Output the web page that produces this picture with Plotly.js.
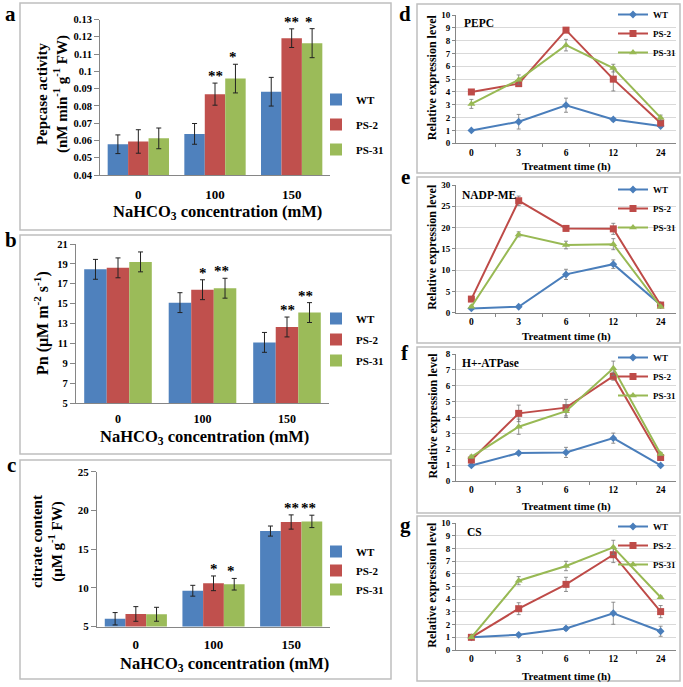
<!DOCTYPE html>
<html><head><meta charset="utf-8">
<script src="https://cdn.plot.ly/plotly-3.0.1.min.js"></script>
<style>html,body{margin:0;padding:0;background:#fff}#chart{width:683px;height:687px}</style>
</head><body><div id="chart"></div>
<script>
// ---------- DATA ----------
const series = ['WT', 'PS-2', 'PS-31'];
const concCats = ['0', '100', '150'];
const timeCats = ['0', '3', '6', '12', '24'];

// a: Pepcase activity
const pepWT = [0.0578, 0.0638, 0.0882];
const pepWTErr = [0.0054, 0.006, 0.0083];
const pepPS2 = [0.0594, 0.0868, 0.1192];
const pepPS2Err = [0.0068, 0.0064, 0.0054];
const pepPS31 = [0.0612, 0.0958, 0.1163];
const pepPS31Err = [0.006, 0.0083, 0.0084];
const pepStarsPS2 = ['', '**', '**'];
const pepStarsPS31 = ['', '*', '*'];
const pepTicks = [0.04, 0.05, 0.06, 0.07, 0.08, 0.09, 0.1, 0.11, 0.12, 0.13];
const pepTickText = ['0.04', '0.05', '0.06', '0.07', '0.08', '0.09', '0.1', '0.11', '0.12', '0.13'];

// b: Pn
const pnWT = [18.45, 15.1, 11.1];
const pnWTErr = [1.0, 1.0, 1.0];
const pnPS2 = [18.6, 16.4, 12.65];
const pnPS2Err = [1.0, 1.0, 1.0];
const pnPS31 = [19.2, 16.55, 14.1];
const pnPS31Err = [1.0, 1.0, 1.0];
const pnStarsPS2 = ['', '*', '**'];
const pnStarsPS31 = ['', '**', '**'];

// c: citrate content
const citWT = [6.0, 9.62, 17.33];
const citWTErr = [0.8, 0.7, 0.65];
const citPS2 = [6.62, 10.58, 18.5];
const citPS2Err = [0.95, 0.95, 0.92];
const citPS31 = [6.58, 10.46, 18.58];
const citPS31Err = [0.9, 0.75, 0.8];
const citStarsPS2 = ['', '*', '**'];
const citStarsPS31 = ['', '*', '**'];

// d: PEPC
const pepcWT = [1.0, 1.68, 2.97, 1.86, 1.35];
const pepcWTErr = [0.05, 0.57, 0.55, 0.12, 0.12];
const pepcPS2 = [4.0, 4.65, 8.82, 5.0, 1.58];
const pepcPS2Err = [0.1, 0.15, 0.15, 0.92, 0.15];
const pepcPS31 = [3.07, 4.95, 7.65, 5.86, 2.0];
const pepcPS31Err = [0.35, 0.38, 0.45, 0.3, 0.2];

// e: NADP-ME
const meWT = [1.0, 1.4, 9.0, 11.4, 1.8];
const meWTErr = [0.2, 0.2, 1.2, 1.0, 0.2];
const mePS2 = [3.2, 26.3, 19.8, 19.7, 1.8];
const mePS2Err = [0.3, 1.1, 0.5, 1.3, 0.2];
const mePS31 = [1.4, 18.4, 15.9, 16.1, 1.4];
const mePS31Err = [0.2, 0.6, 0.9, 1.3, 0.2];

// f: H+-ATPase
const atpWT = [0.98, 1.76, 1.8, 2.7, 0.98];
const atpWTErr = [0.05, 0.1, 0.32, 0.32, 0.05];
const atpPS2 = [1.32, 4.26, 4.62, 6.6, 1.48];
const atpPS2Err = [0.1, 0.52, 0.52, 0.25, 0.1];
const atpPS31 = [1.52, 3.42, 4.4, 7.1, 1.7];
const atpPS31Err = [0.1, 0.48, 0.4, 0.45, 0.1];

// g: CS
const csWT = [1.0, 1.2, 1.7, 2.9, 1.48];
const csWTErr = [0.05, 0.1, 0.15, 0.87, 0.4];
const csPS2 = [1.0, 3.26, 5.18, 7.52, 3.03];
const csPS2Err = [0.05, 0.47, 0.56, 0.62, 0.48];
const csPS31 = [1.0, 5.47, 6.63, 8.1, 4.16];
const csPS31Err = [0.05, 0.32, 0.37, 0.56, 0.1];

// ---------- STYLE / LAYOUT ----------
const W = 683, H = 687;
const px = v => v / W;
const py = v => 1 - v / H;
const FONT = 'Liberation Serif, Times New Roman, serif';
const barColors = ['#4F81BD', '#C0504D', '#9BBB59'];
const lineColors = ['#4A7EBB', '#BE4B48', '#98B954'];
const symbols = ['diamond', 'square', 'triangle-up'];
const msizes = [6, 7, 7];
const f = (size, color) => ({family: FONT, size: size, color: color || '#000', weight: 'bold'});

const traces = [];
const annotations = [];
const shapes = [];
const layout = {
  width: W, height: H, margin: {l: 0, r: 0, t: 0, b: 0},
  paper_bgcolor: '#fff', plot_bgcolor: 'rgba(0,0,0,0)',
  font: {family: FONT, weight: 'bold', color: '#000'},
  barmode: 'group', bargroupgap: 0, showlegend: true
};

// bar panels
const barPanels = [
  {id: 1, vals: [pepWT, pepPS2, pepPS31], errs: [pepWTErr, pepPS2Err, pepPS31Err],
   stars: [null, pepStarsPS2, pepStarsPS31], dom: [100, 330], ydom: [19.5, 175],
   yr: [0.04, 0.13], tickvals: pepTicks, ticktext: pepTickText, xfs: 13, yfs: 10.5, standoff: 7,
   ytitle: ['Pepcase activity', '(nM min<sup>-1</sup> g<sup>-1</sup> FW)'], ytx: 52, yty: 94, ytfs: 15,
   xt: [217, 212], leg: [316, 85, 6], gap: 0.31},
  {id: 2, vals: [pnWT, pnPS2, pnPS31], errs: [pnWTErr, pnPS2Err, pnPS31Err],
   stars: [null, pnStarsPS2, pnStarsPS31], dom: [75.75, 329.25], ydom: [244, 403],
   yr: [5, 21], dtick: 2, xfs: 12, yfs: 10.5, standoff: 5,
   ytitle: ['Pn (μM m<sup>-2</sup> s<sup>-1</sup>)'], ytx: 42, yty: 323, ytfs: 16,
   xt: [204, 437], leg: [316, 304, 2], gap: 0.34},
  {id: 3, vals: [citWT, citPS2, citPS31], errs: [citWTErr, citPS2Err, citPS31Err],
   stars: [null, citStarsPS2, citStarsPS31], dom: [97, 330], ydom: [471.7, 626.5],
   yr: [5, 25], dtick: 5, xfs: 13, yfs: 11, standoff: 6,
   ytitle: ['citrate content', '(μM g<sup>-1</sup> FW)'], ytx: 47, yty: 542, ytfs: 15,
   xt: [224, 664], leg: [316, 537, 0], gap: 0.33}
];

barPanels.forEach(p => {
  const xa = 'x' + p.id, ya = 'y' + p.id;
  const lg = p.id === 1 ? 'legend' : 'legend' + p.id;
  series.forEach((s, i) => {
    traces.push({
      type: 'bar', name: s, x: concCats, y: p.vals[i], xaxis: xa, yaxis: ya,
      marker: {color: barColors[i], line: {width: 0}},
      error_y: {type: 'data', array: p.errs[i], visible: true, color: '#222', thickness: 1, width: 2.5},
      legend: lg, legendgroup: lg + s, hoverinfo: 'y'
    });
    if (p.stars[i]) {
      const w = (1 - p.gap) / 3;
      const off = (i - 1) * w;
      p.stars[i].forEach((st, k) => {
        if (!st) return;
        annotations.push({xref: xa, yref: ya, x: k + off, y: p.vals[i][k] + p.errs[i][k],
          text: st, showarrow: false, yanchor: 'bottom', xanchor: 'center', yshift: -3,
          font: f(15, '#000')});
      });
    }
  });
  const xkey = 'xaxis' + (p.id === 1 ? '' : p.id), ykey = 'yaxis' + (p.id === 1 ? '' : p.id);
  layout[xkey] = {domain: [px(p.dom[0]), px(p.dom[1])], anchor: ya, type: 'category',
    showline: true, linecolor: '#868686', linewidth: 1, ticks: '', showgrid: false, zeroline: false,
    tickfont: f(p.xfs), ticklabelstandoff: p.standoff, fixedrange: true};
  const yax = {domain: [py(p.ydom[1]), py(p.ydom[0])], anchor: xa, range: p.yr,
    showline: true, linecolor: '#868686', linewidth: 1, ticks: 'outside', ticklen: 5, tickcolor: '#868686',
    showgrid: false, zeroline: false, tickfont: f(p.yfs), fixedrange: true};
  if (p.tickvals) { yax.tickmode = 'array'; yax.tickvals = p.tickvals; yax.ticktext = p.ticktext; }
  else { yax.dtick = p.dtick; yax.tick0 = p.yr[0]; }
  layout[ykey] = yax;
  layout[lg] = {x: px(p.leg[0]), y: py(p.leg[1]), xanchor: 'left', yanchor: 'top',
    bgcolor: 'rgba(0,0,0,0)', borderwidth: 0, font: f(11), tracegroupgap: p.leg[2], itemclick: false};
  annotations.push({xref: 'paper', yref: 'paper', x: px(p.xt[0]), y: py(p.xt[1]),
    text: 'NaHCO<sub>3</sub> concentration (mM)', showarrow: false, xanchor: 'center', yanchor: 'middle',
    font: f(16.5)});
  annotations.push({xref: 'paper', yref: 'paper', x: px(p.ytx), y: py(p.yty),
    text: p.ytitle.join('<br>'), showarrow: false, textangle: -90, xanchor: 'center', yanchor: 'middle',
    font: f(p.ytfs)});
});

// line panels
const linePanels = [
  {id: 4, label: 'PEPC', vals: [pepcWT, pepcPS2, pepcPS31], errs: [pepcWTErr, pepcPS2Err, pepcPS31Err],
   ydom: [15, 143.3], yr: [0, 10], dtick: 1, lab: [462, 23], xt: 166, leg: [613, 0]},
  {id: 5, label: 'NADP-ME', vals: [meWT, mePS2, mePS31], errs: [meWTErr, mePS2Err, mePS31Err],
   ydom: [185, 312.7], yr: [0, 30], dtick: 5, lab: [460, 195], xt: 336, leg: [613, 175]},
  {id: 6, label: 'H+-ATPase', vals: [atpWT, atpPS2, atpPS31], errs: [atpWTErr, atpPS2Err, atpPS31Err],
   ydom: [354, 481], yr: [0, 8], dtick: 1, lab: [460, 363], xt: 506, leg: [613, 343]},
  {id: 7, label: 'CS', vals: [csWT, csPS2, csPS31], errs: [csWTErr, csPS2Err, csPS31Err],
   ydom: [523.3, 650], yr: [0, 10], dtick: 1, lab: [465, 532], xt: 676, leg: [613, 512]}
];

linePanels.forEach(p => {
  const xa = 'x' + p.id, ya = 'y' + p.id, lg = 'legend' + p.id;
  series.forEach((s, i) => {
    traces.push({
      type: 'scatter', mode: 'lines+markers', name: s, x: timeCats, y: p.vals[i],
      xaxis: xa, yaxis: ya, line: {color: lineColors[i], width: 2},
      marker: {symbol: symbols[i], size: msizes[i], color: lineColors[i]},
      error_y: {type: 'data', array: p.errs[i], visible: true, color: '#777', thickness: 0.8, width: 2},
      legend: lg, cliponaxis: false
    });
  });
  layout['xaxis' + p.id] = {domain: [px(456), px(676)], anchor: ya, type: 'category',
    showline: true, linecolor: '#868686', linewidth: 1, ticks: 'outside', tickson: 'boundaries',
    ticklen: 3, tickcolor: '#868686', showgrid: false, zeroline: false, tickfont: f(9.5), fixedrange: true};
  layout['yaxis' + p.id] = {domain: [py(p.ydom[1]), py(p.ydom[0])], anchor: xa, range: p.yr,
    dtick: p.dtick, tick0: 0, showline: true, linecolor: '#868686', linewidth: 1, ticks: 'outside',
    ticklen: 3, tickcolor: '#868686', showgrid: true, gridcolor: '#D9D9D9', gridwidth: 1,
    zeroline: false, tickfont: f(9), fixedrange: true};
  layout[lg] = {x: px(p.leg[0]), y: py(p.leg[1]), xanchor: 'left', yanchor: 'top',
    bgcolor: 'rgba(0,0,0,0)', borderwidth: 0, font: f(9), itemclick: false};
  annotations.push({xref: 'paper', yref: 'paper', x: px(p.lab[0]), y: py(p.lab[1]),
    text: p.label, showarrow: false, xanchor: 'left', yanchor: 'middle', font: f(11.5)});
  annotations.push({xref: 'paper', yref: 'paper', x: px(566), y: py(p.xt),
    text: 'Treatment time (h)', showarrow: false, xanchor: 'center', yanchor: 'middle', font: f(11)});
  annotations.push({xref: 'paper', yref: 'paper', x: px(432), y: py((p.ydom[0] + p.ydom[1]) / 2 - 2),
    text: 'Relative expression level', showarrow: false, textangle: -90, xanchor: 'center', yanchor: 'middle',
    font: f(12)});
});

// panel letters
const letters = [['a', 10, 14], ['b', 11, 240], ['c', 11, 465], ['d', 405, 14], ['e', 405, 177], ['f', 405, 353], ['g', 405, 525]];
letters.forEach(l => annotations.push({xref: 'paper', yref: 'paper', x: px(l[1]), y: py(l[2]), text: l[0],
  showarrow: false, xanchor: 'center', yanchor: 'middle', font: f(21)}));

// panel frames
const boxes = [[20, 3, 391, 230], [20, 235, 391, 454], [20, 460, 391, 679],
  [417, 4, 680, 173], [417, 177, 680, 343], [417, 347, 680, 513], [417, 516, 680, 681]];
boxes.forEach(b => shapes.push({type: 'rect', xref: 'paper', yref: 'paper',
  x0: px(b[0]), x1: px(b[2]), y0: py(b[3]), y1: py(b[1]), line: {color: '#BFBFBF', width: 1.5}, layer: 'below'}));

layout.annotations = annotations;
layout.shapes = shapes;
Plotly.newPlot('chart', traces, layout, {displayModeBar: false, staticPlot: true});
</script>
</body></html>
